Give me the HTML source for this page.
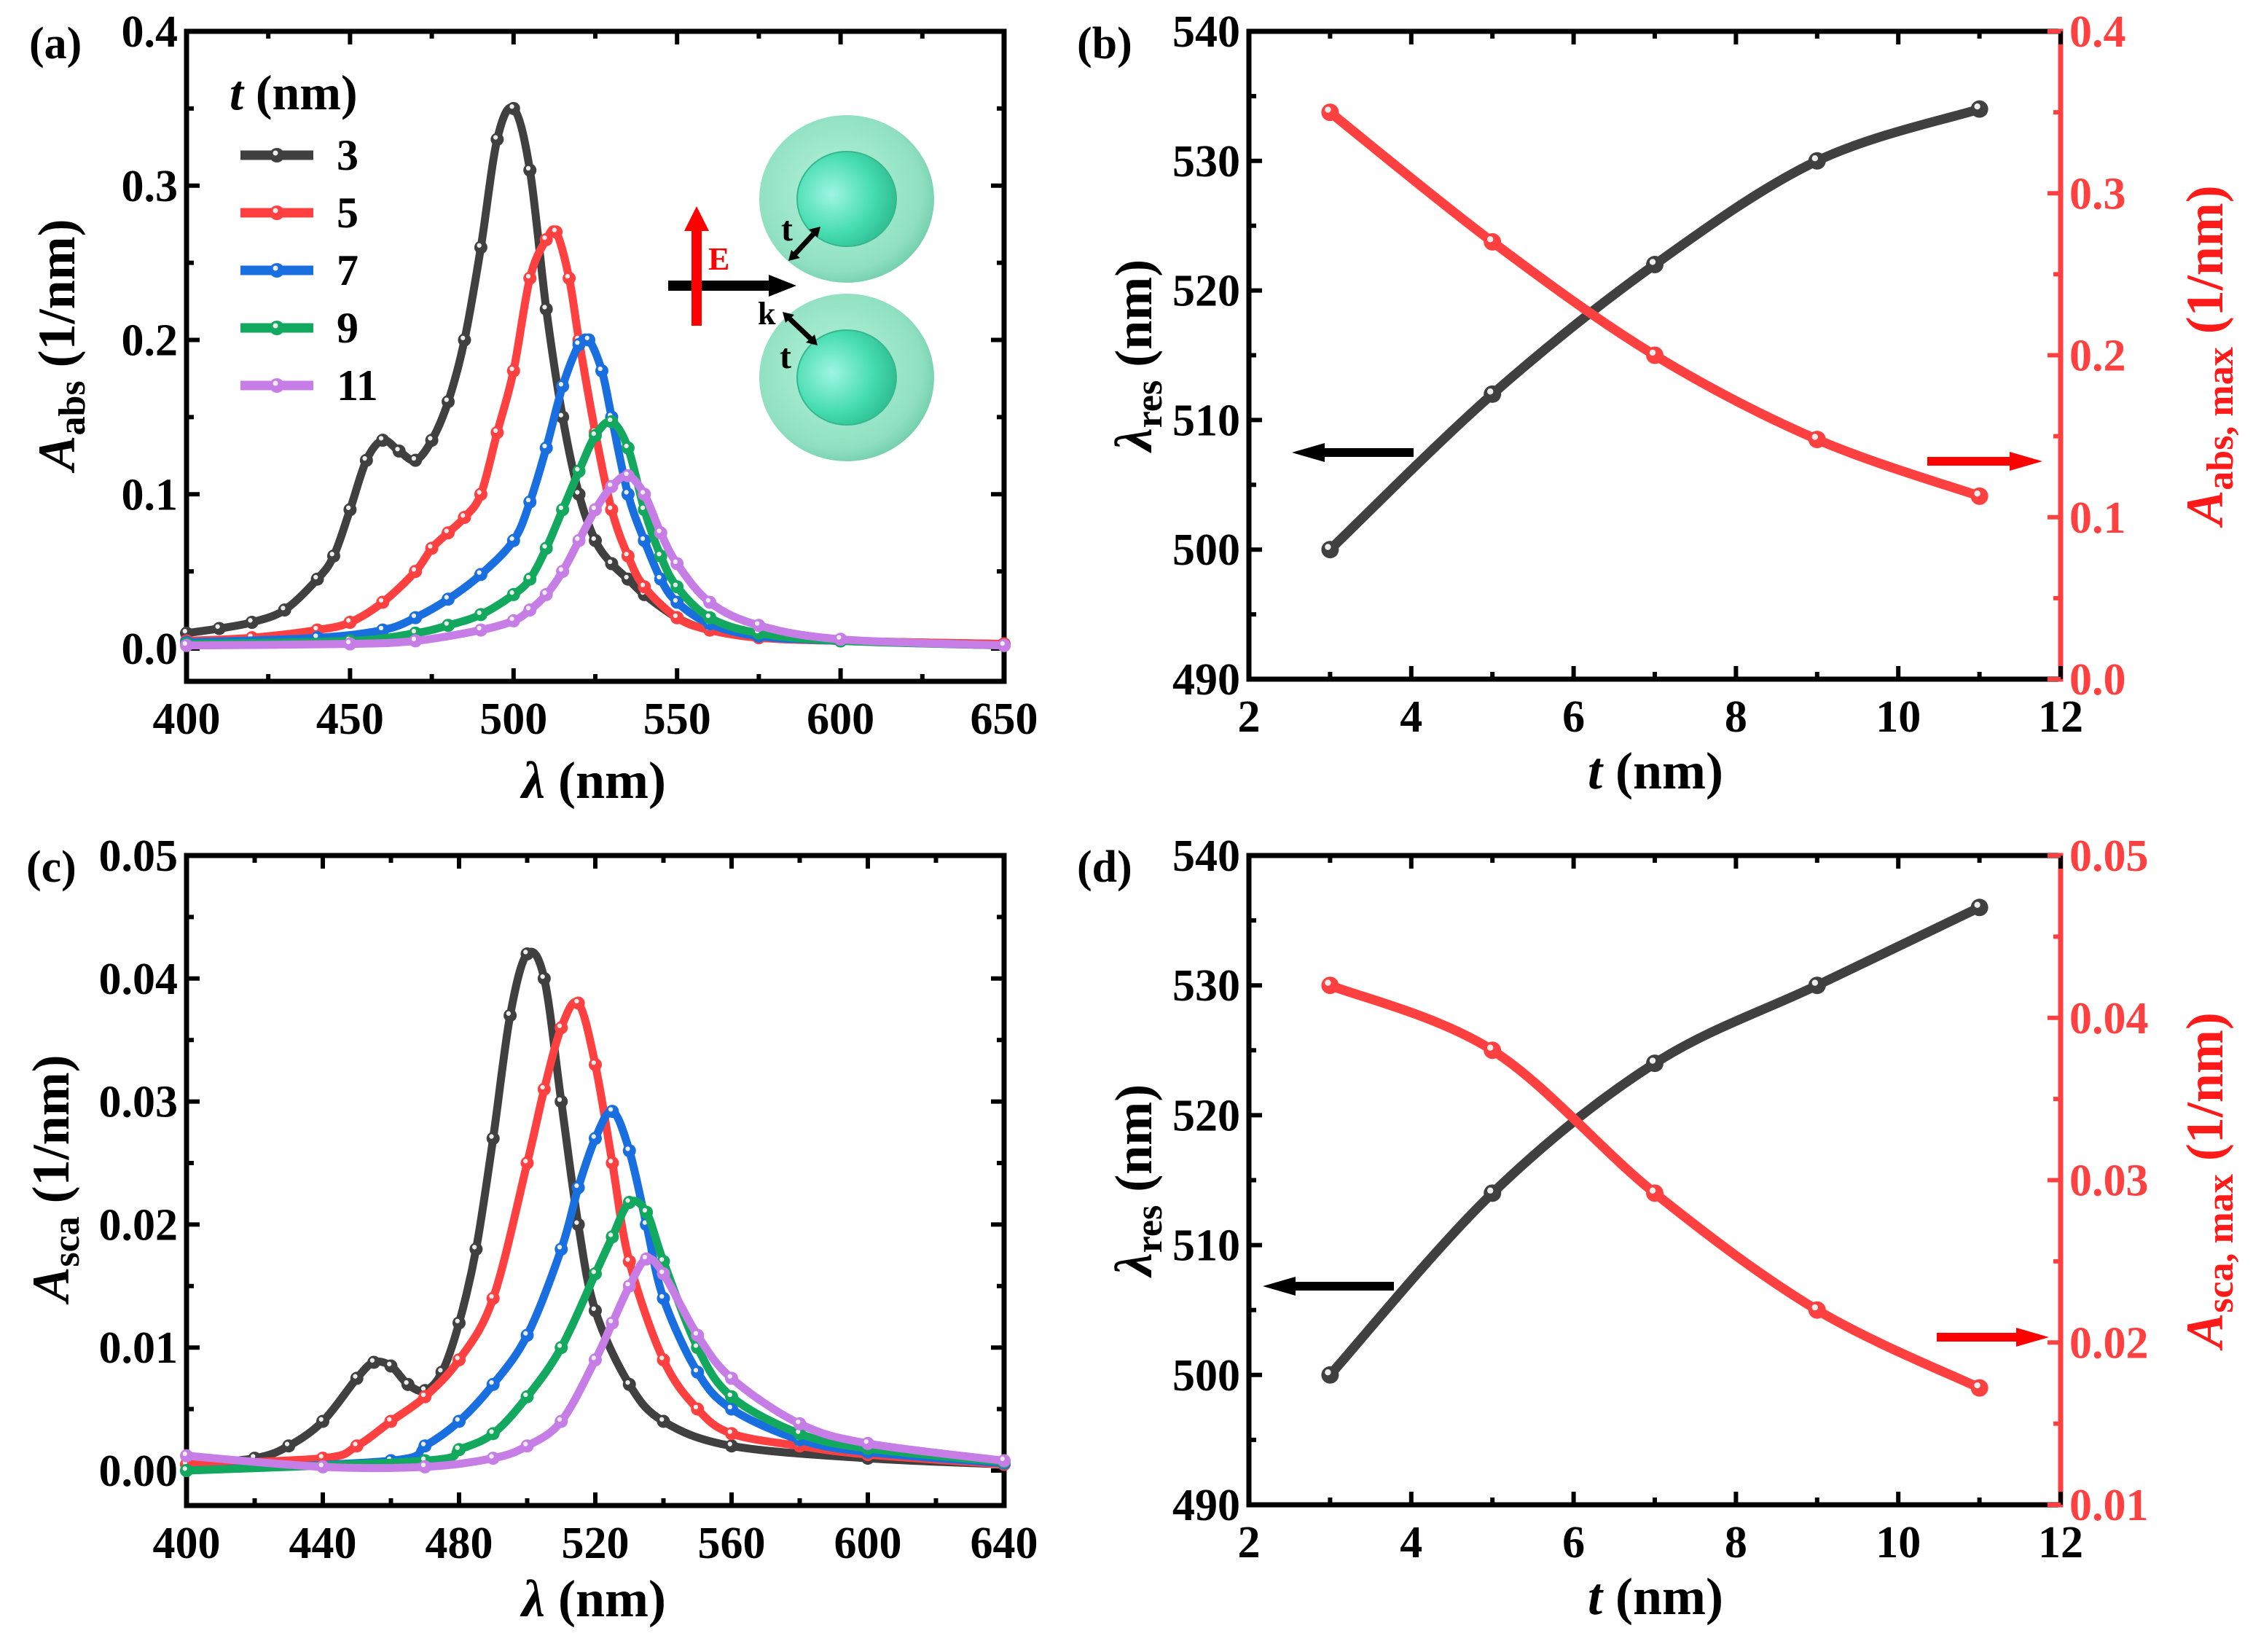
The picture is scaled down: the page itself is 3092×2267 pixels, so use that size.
<!DOCTYPE html>
<html><head><meta charset="utf-8">
<style>
html,body{margin:0;padding:0;background:#fff;}
svg, svg text{font-family:"Liberation Serif","Times New Roman",serif;font-weight:bold;}
</style></head>
<body>
<svg id="fig" xmlns="http://www.w3.org/2000/svg" width="3092" height="2262" viewBox="0 0 3092 2262" font-family="Liberation Serif, serif" font-weight="bold">
<defs>
<radialGradient id="gOut" cx="0.45" cy="0.45" r="0.6"><stop offset="0" stop-color="#b6f3dc"/><stop offset="0.8" stop-color="#8fe0c0"/><stop offset="1" stop-color="#6ccaa6"/></radialGradient>
<radialGradient id="gIn" cx="0.35" cy="0.45" r="0.7"><stop offset="0" stop-color="#9ff5e2"/><stop offset="0.6" stop-color="#45dcb0"/><stop offset="1" stop-color="#2ab88c"/></radialGradient>
</defs>
</svg>
<script>
// ---- data: panel (a) absorption spectra ----
const wlA3=[400,410,420,430,440,445,450,455,460,465,470,475,480,485,490,495,500,505,510,515,520,525,530,535,540,550,560,575,600,650];
const aA3=[0.01,0.013,0.017,0.025,0.045,0.06,0.09,0.122,0.135,0.128,0.122,0.135,0.16,0.2,0.26,0.33,0.35,0.31,0.22,0.15,0.1,0.07,0.055,0.045,0.035,0.02,0.012,0.008,0.005,0.003];
const wlA5=[400,420,440,450,460,470,475,480,485,490,495,500,505,510,513,517,520,525,530,535,540,550,560,575,600,650];
const aA5=[0.005,0.007,0.012,0.017,0.03,0.05,0.065,0.075,0.085,0.1,0.14,0.18,0.24,0.265,0.27,0.24,0.2,0.14,0.09,0.06,0.04,0.02,0.012,0.007,0.005,0.003];
const wlA7=[400,440,460,470,480,490,500,505,510,515,520,523,527,530,535,540,545,550,560,575,600,650];
const aA7=[0.004,0.007,0.012,0.02,0.032,0.048,0.07,0.095,0.13,0.17,0.197,0.2,0.18,0.15,0.1,0.07,0.045,0.03,0.016,0.008,0.005,0.002];
const wlA9=[400,450,470,480,490,500,505,510,515,520,525,530,535,540,545,550,560,575,600,650];
const aA9=[0.003,0.005,0.01,0.015,0.022,0.035,0.045,0.065,0.09,0.115,0.138,0.147,0.13,0.09,0.06,0.04,0.02,0.01,0.005,0.002];
const wlA11=[400,450,470,490,500,505,510,515,520,525,530,535,540,545,550,560,575,600,650];
const aA11=[0.002,0.003,0.005,0.012,0.018,0.025,0.035,0.05,0.07,0.09,0.105,0.112,0.1,0.075,0.055,0.03,0.015,0.006,0.002];
// ---- data: panel (c) scattering spectra ----
const wlC3=[400,420,430,440,450,455,460,465,470,475,480,485,490,495,500,505,510,515,520,530,540,560,600,640];
const sC3=[0.0005,0.001,0.002,0.004,0.0075,0.0088,0.0085,0.007,0.0065,0.008,0.012,0.018,0.027,0.037,0.042,0.04,0.03,0.02,0.013,0.007,0.004,0.002,0.001,0.0005];
const wlC5=[400,440,450,460,470,480,490,500,505,510,515,520,525,530,540,550,560,580,600,640];
const sC5=[0.0005,0.001,0.002,0.004,0.006,0.009,0.014,0.025,0.031,0.036,0.038,0.033,0.025,0.017,0.009,0.005,0.003,0.002,0.0013,0.0005];
const wlC7=[400,460,470,480,490,500,510,515,520,525,530,535,540,550,560,580,600,640];
const sC7=[0.0,0.0008,0.002,0.004,0.007,0.011,0.018,0.023,0.027,0.0292,0.026,0.02,0.014,0.008,0.005,0.0025,0.0015,0.0006];
const wlC9=[400,470,480,490,500,510,520,525,530,535,540,550,560,580,600,640];
const sC9=[0.0,0.0008,0.0017,0.003,0.006,0.01,0.016,0.019,0.0218,0.021,0.017,0.01,0.006,0.003,0.0018,0.0007];
const wlC11=[400,440,470,490,500,510,520,525,530,535,540,550,560,580,600,640];
const sC11=[0.0012,0.0003,0.0003,0.001,0.002,0.004,0.009,0.012,0.015,0.0172,0.016,0.011,0.0075,0.0038,0.0022,0.0008];
// ---- data: panels (b),(d) ----
const tVals=[3,5,7,9,11];
const resB=[500,512,522,530,534];
const maxB=[0.35,0.27,0.2,0.148,0.113];
const resD=[500,514,524,530,536];
const maxD=[0.042,0.038,0.0292,0.022,0.0172];
// ---- tick labels ----
const ticksAx=[400,450,500,550,600,650], ticksAy=[0.0,0.1,0.2,0.3,0.4];
const ticksCx=[400,440,480,520,560,600,640], ticksCy=[0.00,0.01,0.02,0.03,0.04,0.05];
const ticksTx=[2,4,6,8,10,12], ticksRes=[490,500,510,520,530,540];
const ticksBr=[0.0,0.1,0.2,0.3,0.4], ticksDr=[0.01,0.02,0.03,0.04,0.05];

const NS="http://www.w3.org/2000/svg";
const svg=document.getElementById('fig');
const FONT='"Liberation Serif", "Times New Roman", serif';
function mk(tag,attrs,parent){const e=document.createElementNS(NS,tag);for(const k in attrs)e.setAttribute(k,attrs[k]);if(tag==='text'){e.setAttribute('font-family',FONT);e.setAttribute('font-weight','bold');}(parent||svg).appendChild(e);return e;}
function lin(d0,d1,p0,p1){return v=>p0+(v-d0)*(p1-p0)/(d1-d0);}
const COL={k:'#404040',r:'#ff4040',b:'#1a6fe0',g:'#12a85e',v:'#c67ee6'};
const FS=62;

function frame(L,R,T,B,rightColor){
  const g=mk('g',{});
  
  
  mk('path',{d:`M${R},${T}H${L}V${B}H${R}`,fill:'none',stroke:'#000','stroke-width':7},g);
  mk('line',{x1:R,y1:T-3.5,x2:R,y2:B+3.5,stroke:rightColor||'#000','stroke-width':7},g);
}
function xTicks(L,R,T,B,ticks,sx,fmt,name){
  const g=mk('g',{});
  
  
  for(let i=0;i<ticks.length;i++){
    const x=sx(ticks[i]);
    mk('line',{x1:x,y1:B,x2:x,y2:B-18,stroke:'#000','stroke-width':6},g);
    mk('line',{x1:x,y1:T,x2:x,y2:T+18,stroke:'#000','stroke-width':6},g);
    if(i<ticks.length-1){const xm=(x+sx(ticks[i+1]))/2;
      mk('line',{x1:xm,y1:B,x2:xm,y2:B-10,stroke:'#000','stroke-width':6},g);
      mk('line',{x1:xm,y1:T,x2:xm,y2:T+10,stroke:'#000','stroke-width':6},g);}
    const t=mk('text',{x:x,y:B+72,'text-anchor':'middle','font-size':FS},g);t.textContent=fmt(ticks[i]);
  }
}
function yTicks(L,R,ticks,sy,fmt,name,side,color,drawOpp){
  const g=mk('g',{});
  
  
  const x0=side==='left'?L:R, dir=side==='left'?1:-1;
  for(let i=0;i<ticks.length;i++){
    const y=sy(ticks[i]);
    mk('line',{x1:x0,y1:y,x2:x0+dir*18,y2:y,stroke:color,'stroke-width':6},g);
    if(drawOpp) mk('line',{x1:R,y1:y,x2:R-18,y2:y,stroke:color,'stroke-width':6},g);
    if(i<ticks.length-1){const ym=(y+sy(ticks[i+1]))/2;
      mk('line',{x1:x0,y1:ym,x2:x0+dir*10,y2:ym,stroke:color,'stroke-width':6},g);
      if(drawOpp) mk('line',{x1:R,y1:ym,x2:R-10,y2:ym,stroke:color,'stroke-width':6},g);}
    const t=mk('text',{x:side==='left'?L-12:R+12,y:y+21,'text-anchor':side==='left'?'end':'start','font-size':FS,fill:color},g);t.textContent=fmt(ticks[i]);
  }
}
function series(xs,ys,sx,sy,color,name,r){
  const g=mk('g',{});
  
  
  const pts=xs.map((v,i)=>[sx(v),sy(ys[i])]);
  let d=`M${pts[0][0]},${pts[0][1]}`;
  for(let i=0;i<pts.length-1;i++){
    const p0=pts[Math.max(0,i-1)],p1=pts[i],p2=pts[i+1],p3=pts[Math.min(pts.length-1,i+2)];
    const c1=[p1[0]+(p2[0]-p0[0])/6,p1[1]+(p2[1]-p0[1])/6],c2=[p2[0]-(p3[0]-p1[0])/6,p2[1]-(p3[1]-p1[1])/6];
    d+=`C${c1[0]},${c1[1]} ${c2[0]},${c2[1]} ${p2[0]},${p2[1]}`;
  }
  mk('path',{d:d,fill:'none',stroke:color,'stroke-width':r>10?13:11,'stroke-linejoin':'round'},g);
  pts.forEach(p=>{
    const c=mk('circle',{cx:p[0],cy:p[1],r:r,fill:color},g);
    
    
    mk('circle',{cx:p[0]-r*0.25,cy:p[1]-r*0.3,r:r*0.35,fill:'#eee'},g);
  });
}
function text(x,y,str,size,attrs,name){
  const t=mk('text',Object.assign({x:x,y:y,'font-size':size},attrs||{}));
  
  
  t.innerHTML=str;return t;
}
const f1=v=>v.toFixed(1), f2=v=>v.toFixed(2), f0=v=>String(v);

// ===== Panel (a) =====
{const L=256,R=1378,T=43,B=935;
 const sx=lin(400,650,L,R), sy=lin(0,0.4,890,43);
 frame(L,R,T,B);
 xTicks(L,R,T,B,ticksAx,sx,f0,'a-x-ticks');
 yTicks(L,R,ticksAy,sy,f1,'a-y-ticks','left','#000',true);
 series(wlA3,aA3,sx,sy,COL.k,'a-series-t3',9);
 series(wlA5,aA5,sx,sy,COL.r,'a-series-t5',9);
 series(wlA7,aA7,sx,sy,COL.b,'a-series-t7',9);
 series(wlA9,aA9,sx,sy,COL.g,'a-series-t9',9);
 series(wlA11,aA11,sx,sy,COL.v,'a-series-t11',9);
 text(40,80,'(a)',62,{},'panel-label-a');
 text(815,1095,'<tspan font-style="italic">λ</tspan> (nm)',72,{'text-anchor':'middle'},'a-x-axis-title');
 text(0,0,'<tspan font-style="italic">A</tspan><tspan font-size="52" dy="14">abs</tspan><tspan dy="-14"> (1/nm)</tspan>',72,{'text-anchor':'middle',transform:'translate(102,473) rotate(-90)'},'a-y-axis-title');
 const lg=mk('g',{});
 
 
 const lt=mk('text',{x:315,y:150,'font-size':68},lg);lt.innerHTML='<tspan font-style="italic">t</tspan> (nm)';
 const labs=['3','5','7','9','11'],cols=[COL.k,COL.r,COL.b,COL.g,COL.v];
 labs.forEach((l,i)=>{const y=213+i*79;
   const e=mk('g',{},lg);
   
   
   mk('line',{x1:330,y1:y,x2:430,y2:y,stroke:cols[i],'stroke-width':13},e);
   mk('circle',{cx:380,cy:y,r:10,fill:cols[i]},e);
   mk('circle',{cx:378,cy:y-3,r:3.5,fill:'#eee'},e);
   const t=mk('text',{x:462,y:y+20,'font-size':60},e);t.textContent=l;});
 const ins=mk('g',{});
 
 
 [273,518].forEach(cy=>{
   mk('ellipse',{cx:1162,cy:cy,rx:120,ry:115,fill:'url(#gOut)'},ins);
   mk('ellipse',{cx:1162,cy:cy,rx:68,ry:65,fill:'url(#gIn)',stroke:'#36b88e','stroke-width':2},ins);
 });
 mk('rect',{x:917,y:385,width:140,height:14,fill:'#000'},ins);
 mk('polygon',{points:'1055,377 1093,392 1055,407',fill:'#000'},ins);
 mk('rect',{x:949,y:305,width:14,height:142,fill:'#ff0000'},ins);
 mk('polygon',{points:'939,317 956,283 973,317',fill:'#ff0000'},ins);
 mk('line',{x1:1122,y1:315,x2:1086,y2:354,stroke:'#000','stroke-width':7},ins);
 mk('line',{x1:1078,y1:432,x2:1118,y2:470,stroke:'#000','stroke-width':7},ins);
 mk('polygon',{points:'1126,311 1110,315 1122,326',fill:'#000'},ins);
 mk('polygon',{points:'1082,358 1098,354 1086,343',fill:'#000'},ins);
 mk('polygon',{points:'1074,428 1090,432 1078,443',fill:'#000'},ins);
 mk('polygon',{points:'1122,474 1106,470 1118,459',fill:'#000'},ins);
 text(972,370,'E',44,{fill:'#ff0000'},'e-field-label');
 text(1040,445,'k',44,{},'k-vector-label');
 text(1072,330,'t',48,{},'shell-thickness-label');
 text(1070,505,'t',48,{},'shell-thickness-label');
}
// ===== Panel (c) =====
{const L=256,R=1378,T=1174,B=2066;
 const sx=lin(400,640,L,R), sy=lin(0,0.05,2018,1174);
 frame(L,R,T,B);
 xTicks(L,R,T,B,ticksCx,sx,f0,'c-x-ticks');
 yTicks(L,R,ticksCy,sy,f2,'c-y-ticks','left','#000',true);
 series(wlC3,sC3,sx,sy,COL.k,'c-series-t3',9);
 series(wlC5,sC5,sx,sy,COL.r,'c-series-t5',9);
 series(wlC7,sC7,sx,sy,COL.b,'c-series-t7',9);
 series(wlC9,sC9,sx,sy,COL.g,'c-series-t9',9);
 series(wlC11,sC11,sx,sy,COL.v,'c-series-t11',9);
 text(36,1210,'(c)',62,{},'panel-label-c');
 text(815,2218,'<tspan font-style="italic">λ</tspan> (nm)',72,{'text-anchor':'middle'},'c-x-axis-title');
 text(0,0,'<tspan font-style="italic">A</tspan><tspan font-size="52" dy="14">sca</tspan><tspan dy="-14"> (1/nm)</tspan>',72,{'text-anchor':'middle',transform:'translate(94,1617) rotate(-90)'},'c-y-axis-title');
}
// ===== Panels (b),(d) =====
function dual(T,B,res,mx,rTicks,rfmt,rMin,rMax,lab,sub,arrows,lblY){
 const L=1714,R=2828;
 const sx=lin(2,12,L,R), sy=lin(490,540,B,T), sr=lin(rMin,rMax,B,T);
 frame(L,R,T,B,'#ff4040');
 xTicks(L,R,T,B,ticksTx,sx,f0,lab+'-x-ticks');
 yTicks(L,R,ticksRes,sy,f0,lab+'-left-y-ticks','left','#000',false);
 yTicks(L,R,rTicks,sr,rfmt,lab+'-right-y-ticks','right','#ff4040',false);
 series(tVals,res,sx,sy,COL.k,lab+'-series-resonance',12);
 series(tVals,mx,sx,sr,COL.r,lab+'-series-amax',12);
 text(1478,lblY,'('+lab+')',62,{},'panel-label-'+lab);
 text(2272,B+150,'<tspan font-style="italic">t</tspan> (nm)',72,{'text-anchor':'middle'},lab+'-x-axis-title');
 text(0,0,'<tspan font-style="italic">λ</tspan><tspan font-size="52" dy="14">res</tspan><tspan dy="-14"> (nm)</tspan>',72,{'text-anchor':'middle',transform:`translate(1580,${(T+B)/2}) rotate(-90)`},lab+'-left-y-axis-title');
 text(0,0,'<tspan font-style="italic">A</tspan><tspan font-size="52" dy="14">'+sub+', max</tspan><tspan dy="-14"> (1/nm)</tspan>',72,{'text-anchor':'middle',fill:'#ff1a1a',transform:`translate(3050,${(T+B)/2}) rotate(-90)`},lab+'-right-y-axis-title');
 const a=arrows;
 const g1=mk('g',{});
 
 
 mk('rect',{x:a[1]+40,y:a[2]-6,width:a[0]-a[1]-40,height:12,fill:'#000'},g1);
 mk('polygon',{points:`${a[1]},${a[2]} ${a[1]+45},${a[2]-13} ${a[1]+45},${a[2]+13}`,fill:'#000'},g1);
 const g2=mk('g',{});
 
 
 mk('rect',{x:a[3],y:a[5]-6,width:a[4]-a[3]-40,height:12,fill:'#ff0000'},g2);
 mk('polygon',{points:`${a[4]},${a[5]} ${a[4]-45},${a[5]-13} ${a[4]-45},${a[5]+13}`,fill:'#ff0000'},g2);
}
dual(43,932,resB,maxB,ticksBr,f1,0,0.4,'b','abs',[1940,1773,621,2645,2803,633],80);
dual(1174,2065,resD,maxD,ticksDr,f2,0.01,0.05,'d','sca',[1913,1733,1765,2658,2812,1835],1210);
</script>
</body></html>
